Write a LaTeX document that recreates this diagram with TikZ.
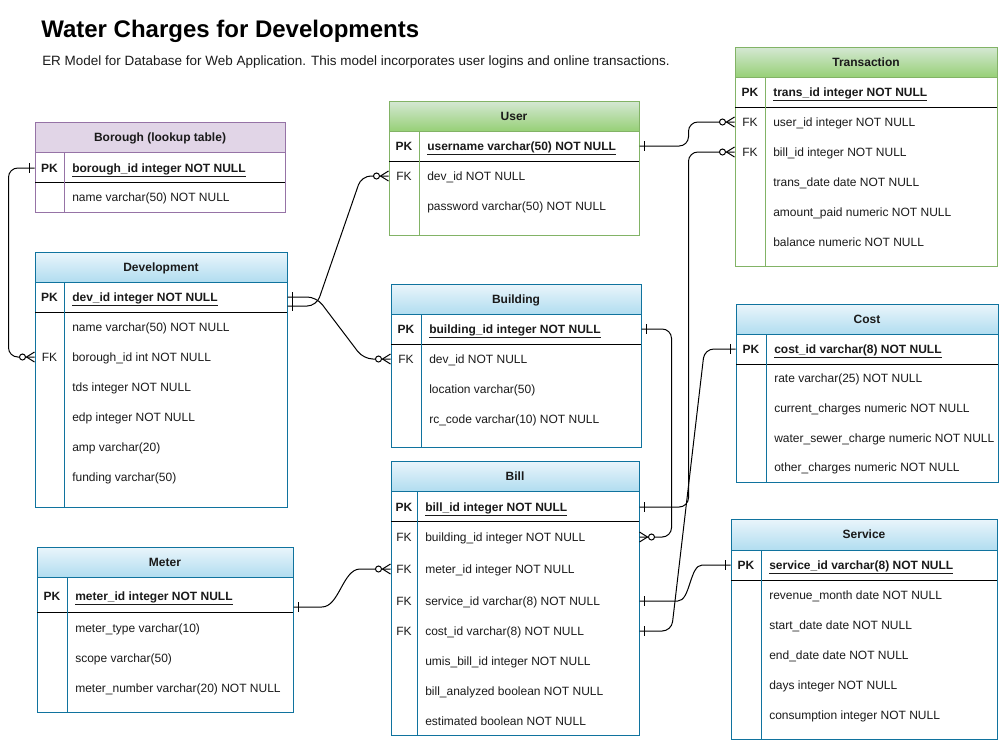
\documentclass[tikz,border=0pt]{standalone}
\usepackage{fontspec}
\setmainfont{Liberation Sans}
\usetikzlibrary{calc,fit}
\definecolor{erBlue}{HTML}{10739E}
\definecolor{erBlueTop}{HTML}{EAF5FB}
\definecolor{erBlueBot}{HTML}{B1DDF0}
\definecolor{erGreen}{HTML}{82B366}
\definecolor{erGreenTop}{HTML}{D5E8D4}
\definecolor{erGreenBot}{HTML}{97D077}
\definecolor{erPurple}{HTML}{9673A6}
\definecolor{erPurpleBg}{HTML}{E1D5E7}
\definecolor{textdark}{HTML}{1A1A1A}
\tikzset{
  headbox/.style n args={3}{
    draw=#1, top color=#2, bottom color=#3, line width=0.75pt,
    inner sep=0pt,
  },
  headtext/.style={
    inner sep=0pt, text=textdark, text height=6.45pt, text depth=0pt,
    font=\fontsize{9}{11}\selectfont\bfseries,
  },
  tablebox/.style={
    draw=#1, line width=0.75pt, inner sep=0pt,
  },
  keyline/.style={
    draw=black, line width=0.75pt,
  },
  coldiv/.style={
    draw=#1, line width=0.75pt,
  },
  keytext/.style={
    inner sep=0pt, text=textdark, text height=6.45pt, text depth=0pt,
    font=\fontsize{9}{11}\selectfont,
  },
  rowtext/.style={
    anchor=west, inner sep=0pt, text=textdark,
    text height=6.45pt, text depth=0pt,
    font=\fontsize{9}{11}\selectfont,
  },
  pktext/.style={
    rowtext, font=\fontsize{9}{11}\selectfont\bfseries,
  },
  titletext/.style={
    anchor=west, inner sep=0pt, text=black,
    text height=12.9pt, text depth=0pt,
    font=\fontsize{18}{22}\selectfont\bfseries,
  },
  subtext/.style={
    anchor=west, inner sep=0pt, text=textdark,
    text height=7.25pt, text depth=0pt,
    font=\fontsize{10.1}{12}\selectfont,
  },
  erline/.style={
    draw=black, line width=0.75pt, rounded corners=7pt,
  },
  pics/onemark/.style={code={
    \draw[line width=0.75pt] (-5,-5) -- (-5,5);
  }},
  pics/manymark/.style={code={
    \draw[line width=0.75pt] (-8,0) -- (0,-5) (-8,0) -- (0,5);
    \draw[line width=0.75pt, fill=white] (-12,0) circle[radius=2.25pt];
  }},
}

\begin{document}
\begin{tikzpicture}[x=0.75pt, y=-0.75pt]
  \useasboundingbox (0,0) rectangle (999,740);

  % ─── Title ────────────────────────────────────────────────────────────
  \node[titletext] (title) at (41,29) {Water Charges for Developments};
  \node[subtext] (subtitle) at (42,61)
    {ER Model for Database for Web Application. This model incorporates user logins and online transactions.};

  % ─── Borough (lookup table) ───────────────────────────────────────────
  \node[headbox={erPurple}{erPurpleBg}{erPurpleBg}, fit={(35,122)(285,152)}] (boroHead) {};
  \node[headtext] at (boroHead) {Borough (lookup table)};
  \node[tablebox=erPurple, fit={(35,122)(285,212)}] (boro) {};
  \draw[keyline] (35,182) -- (285,182);
  \draw[coldiv=erPurple] (64,152) -- (64,212);
  \node[keytext] at (49.5,168) {\bfseries PK};
  \node[pktext] (boroPK) at (72,168) {\underline{borough\_id integer NOT NULL}};
  \node[rowtext] (boroName) at (72,197) {name varchar(50) NOT NULL};

  % ─── Development ──────────────────────────────────────────────────────
  \node[headbox={erBlue}{erBlueTop}{erBlueBot}, fit={(35,252)(287,282)}] (devHead) {};
  \node[headtext] at (devHead) {Development};
  \node[tablebox=erBlue, fit={(35,252)(287,507)}] (dev) {};
  \draw[keyline] (35,312) -- (287,312);
  \draw[coldiv=erBlue] (64,282) -- (64,507);
  \node[keytext] at (49.5,297) {\bfseries PK};
  \node[pktext] (devPK) at (72,297) {\underline{dev\_id integer NOT NULL}};
  \node[rowtext] (devName) at (72,327) {name varchar(50) NOT NULL};
  \node[keytext] at (49.5,357) {FK};
  \node[rowtext] (devBoro) at (72,357) {borough\_id int NOT NULL};
  \node[rowtext] (devTds) at (72,387) {tds integer NOT NULL};
  \node[rowtext] (devEdp) at (72,417) {edp integer NOT NULL};
  \node[rowtext] (devAmp) at (72,447) {amp varchar(20)};
  \node[rowtext] (devFund) at (72,477) {funding varchar(50)};

  % ─── User ─────────────────────────────────────────────────────────────
  \node[headbox={erGreen}{erGreenTop}{erGreenBot}, fit={(389,101)(639,131)}] (userHead) {};
  \node[headtext] at (userHead) {User};
  \node[tablebox=erGreen, fit={(389,101)(639,235)}] (user) {};
  \draw[keyline] (389,161) -- (639,161);
  \draw[coldiv=erGreen] (419,131) -- (419,235);
  \node[keytext] at (404,146) {\bfseries PK};
  \node[pktext] (userPK) at (427,146) {\underline{username varchar(50) NOT NULL}};
  \node[keytext] at (404,176) {FK};
  \node[rowtext] (userDev) at (427,176) {dev\_id NOT NULL};
  \node[rowtext] (userPass) at (427,206) {password varchar(50) NOT NULL};

  % ─── Transaction ──────────────────────────────────────────────────────
  \node[headbox={erGreen}{erGreenTop}{erGreenBot}, fit={(735,47)(997,77)}] (transHead) {};
  \node[headtext] at (transHead) {Transaction};
  \node[tablebox=erGreen, fit={(735,47)(997,266)}] (trans) {};
  \draw[keyline] (735,107) -- (997,107);
  \draw[coldiv=erGreen] (765,77) -- (765,266);
  \node[keytext] at (750,92) {\bfseries PK};
  \node[pktext] (transPK) at (773,92) {\underline{trans\_id integer NOT NULL}};
  \node[keytext] at (750,122) {FK};
  \node[rowtext] (transUser) at (773,122) {user\_id integer NOT NULL};
  \node[keytext] at (750,152) {FK};
  \node[rowtext] (transBill) at (773,152) {bill\_id integer NOT NULL};
  \node[rowtext] (transDate) at (773,182) {trans\_date date NOT NULL};
  \node[rowtext] (transPaid) at (773,212) {amount\_paid numeric NOT NULL};
  \node[rowtext] (transBal) at (773,242) {balance numeric NOT NULL};

  % ─── Building ─────────────────────────────────────────────────────────
  \node[headbox={erBlue}{erBlueTop}{erBlueBot}, fit={(391,284)(641,314)}] (bldgHead) {};
  \node[headtext] at (bldgHead) {Building};
  \node[tablebox=erBlue, fit={(391,284)(641,447)}] (bldg) {};
  \draw[keyline] (391,344) -- (641,344);
  \draw[coldiv=erBlue] (421,314) -- (421,447);
  \node[keytext] at (406,329) {\bfseries PK};
  \node[pktext] (bldgPK) at (429,329) {\underline{building\_id integer NOT NULL}};
  \node[keytext] at (406,359) {FK};
  \node[rowtext] (bldgDev) at (429,359) {dev\_id NOT NULL};
  \node[rowtext] (bldgLoc) at (429,389) {location varchar(50)};
  \node[rowtext] (bldgRc) at (429,419) {rc\_code varchar(10) NOT NULL};

  % ─── Cost ─────────────────────────────────────────────────────────────
  \node[headbox={erBlue}{erBlueTop}{erBlueBot}, fit={(736,304)(998,334)}] (costHead) {};
  \node[headtext] at (costHead) {Cost};
  \node[tablebox=erBlue, fit={(736,304)(998,482)}] (cost) {};
  \draw[keyline] (736,364) -- (998,364);
  \draw[coldiv=erBlue] (766,334) -- (766,482);
  \node[keytext] at (751,349) {\bfseries PK};
  \node[pktext] (costPK) at (774,349) {\underline{cost\_id varchar(8) NOT NULL}};
  \node[rowtext] (costRate) at (774,378) {rate varchar(25) NOT NULL};
  \node[rowtext] (costCur) at (774,408) {current\_charges numeric NOT NULL};
  \node[rowtext] (costWater) at (774,438) {water\_sewer\_charge numeric NOT NULL};
  \node[rowtext] (costOther) at (774,467) {other\_charges numeric NOT NULL};

  % ─── Meter ────────────────────────────────────────────────────────────
  \node[headbox={erBlue}{erBlueTop}{erBlueBot}, fit={(37,547)(293,577)}] (meterHead) {};
  \node[headtext] at (meterHead) {Meter};
  \node[tablebox=erBlue, fit={(37,547)(293,712)}] (meter) {};
  \draw[keyline] (37,612) -- (293,612);
  \draw[coldiv=erBlue] (67,577) -- (67,712);
  \node[keytext] at (52,596) {\bfseries PK};
  \node[pktext] (meterPK) at (75,596) {\underline{meter\_id integer NOT NULL}};
  \node[rowtext] (meterType) at (75,628) {meter\_type varchar(10)};
  \node[rowtext] (meterScope) at (75,658) {scope varchar(50)};
  \node[rowtext] (meterNum) at (75,688) {meter\_number varchar(20) NOT NULL};

  % ─── Bill ─────────────────────────────────────────────────────────────
  \node[headbox={erBlue}{erBlueTop}{erBlueBot}, fit={(391,461)(639,491)}] (billHead) {};
  \node[headtext] at (billHead) {Bill};
  \node[tablebox=erBlue, fit={(391,461)(639,735)}] (bill) {};
  \draw[keyline] (391,521) -- (639,521);
  \draw[coldiv=erBlue] (417,491) -- (417,735);
  \node[keytext] at (404,507) {\bfseries PK};
  \node[pktext] (billPK) at (425,507) {\underline{bill\_id integer NOT NULL}};
  \node[keytext] at (404,537) {FK};
  \node[rowtext] (billBldg) at (425,537) {building\_id integer NOT NULL};
  \node[keytext] at (404,569) {FK};
  \node[rowtext] (billMeter) at (425,569) {meter\_id integer NOT NULL};
  \node[keytext] at (404,601) {FK};
  \node[rowtext] (billService) at (425,601) {service\_id varchar(8) NOT NULL};
  \node[keytext] at (404,631) {FK};
  \node[rowtext] (billCost) at (425,631) {cost\_id varchar(8) NOT NULL};
  \node[rowtext] (billUmis) at (425,661) {umis\_bill\_id integer NOT NULL};
  \node[rowtext] (billAnal) at (425,691) {bill\_analyzed boolean NOT NULL};
  \node[rowtext] (billEst) at (425,721) {estimated boolean NOT NULL};

  % ─── Service ──────────────────────────────────────────────────────────
  \node[headbox={erBlue}{erBlueTop}{erBlueBot}, fit={(731,519)(997,550)}] (serviceHead) {};
  \node[headtext] at (serviceHead) {Service};
  \node[tablebox=erBlue, fit={(731,519)(997,739)}] (service) {};
  \draw[keyline] (731,580) -- (997,580);
  \draw[coldiv=erBlue] (761,550) -- (761,739);
  \node[keytext] at (746,565) {\bfseries PK};
  \node[pktext] (servicePK) at (769,565) {\underline{service\_id varchar(8) NOT NULL}};
  \node[rowtext] (serviceRev) at (769,595) {revenue\_month date NOT NULL};
  \node[rowtext] (serviceStart) at (769,625) {start\_date date NOT NULL};
  \node[rowtext] (serviceEnd) at (769,655) {end\_date date NOT NULL};
  \node[rowtext] (serviceDays) at (769,685) {days integer NOT NULL};
  \node[rowtext] (serviceCons) at (769,715) {consumption integer NOT NULL};

  % ─── Relationships ────────────────────────────────────────────────────
  \coordinate (devPKlow) at ($(dev.east |- devPK)+(0,9)$);
  \coordinate (meterPKlow) at ($(meter.east |- meterPK)+(0,11)$);

  % Borough -> Development
  \draw[erline] (boro.west |- boroPK) -- ++(-26,0) |- (dev.west |- devBoro);
  % Development -> User, Development -> Building
  \draw[erline] (devPKlow) -- ++(29,0)
    -- ($(user.west |- userDev)+(-27,0)$) -- (user.west |- userDev);
  \draw[erline] (dev.east |- devPK) -- ++(29,0)
    -- ($(bldg.west |- bldgDev)+(-27,0)$) -- (bldg.west |- bldgDev);
  % User -> Transaction, Bill -> Transaction
  \draw[erline] (user.east |- userPK) -- ++(49,0) |- (trans.west |- transUser);
  \draw[erline] (bill.east |- billPK) -- ++(49,0) |- (trans.west |- transBill);
  % Building -> Bill
  \draw[erline] (bldg.east |- bldgPK) -- ++(30,0) |- (bill.east |- billBldg);
  % Cost -> Bill
  \draw[erline] (cost.west |- costPK) -- ++(-31,0)
    -- ($(bill.east |- billCost)+(32,0)$) -- (bill.east |- billCost);
  % Service -> Bill
  \draw[erline] (service.west |- servicePK) -- ++(-19,0)
    to[out=180,in=0] ($(bill.east |- billService)+(29,0)$) -- (bill.east |- billService);
  % Meter -> Bill
  \draw[erline] (meterPKlow) -- ++(19,0)
    to[out=0,in=180] ($(bill.west |- billMeter)+(-21,0)$) -- (bill.west |- billMeter);

  % one ends
  \pic at (boro.west |- boroPK) {onemark};
  \pic[xscale=-1] at (dev.east |- devPK) {onemark};
  \pic[xscale=-1] at (devPKlow) {onemark};
  \pic[xscale=-1] at (user.east |- userPK) {onemark};
  \pic[xscale=-1] at (bldg.east |- bldgPK) {onemark};
  \pic[xscale=-1] at (bill.east |- billPK) {onemark};
  \pic[xscale=-1] at (bill.east |- billService) {onemark};
  \pic[xscale=-1] at (bill.east |- billCost) {onemark};
  \pic at (cost.west |- costPK) {onemark};
  \pic at (service.west |- servicePK) {onemark};
  \pic[xscale=-1] at (meterPKlow) {onemark};

  % zero-or-many ends
  \pic at (dev.west |- devBoro) {manymark};
  \pic at (user.west |- userDev) {manymark};
  \pic at (bldg.west |- bldgDev) {manymark};
  \pic at (trans.west |- transUser) {manymark};
  \pic at (trans.west |- transBill) {manymark};
  \pic[xscale=-1] at (bill.east |- billBldg) {manymark};
  \pic at (bill.west |- billMeter) {manymark};

\end{tikzpicture}
\end{document}
